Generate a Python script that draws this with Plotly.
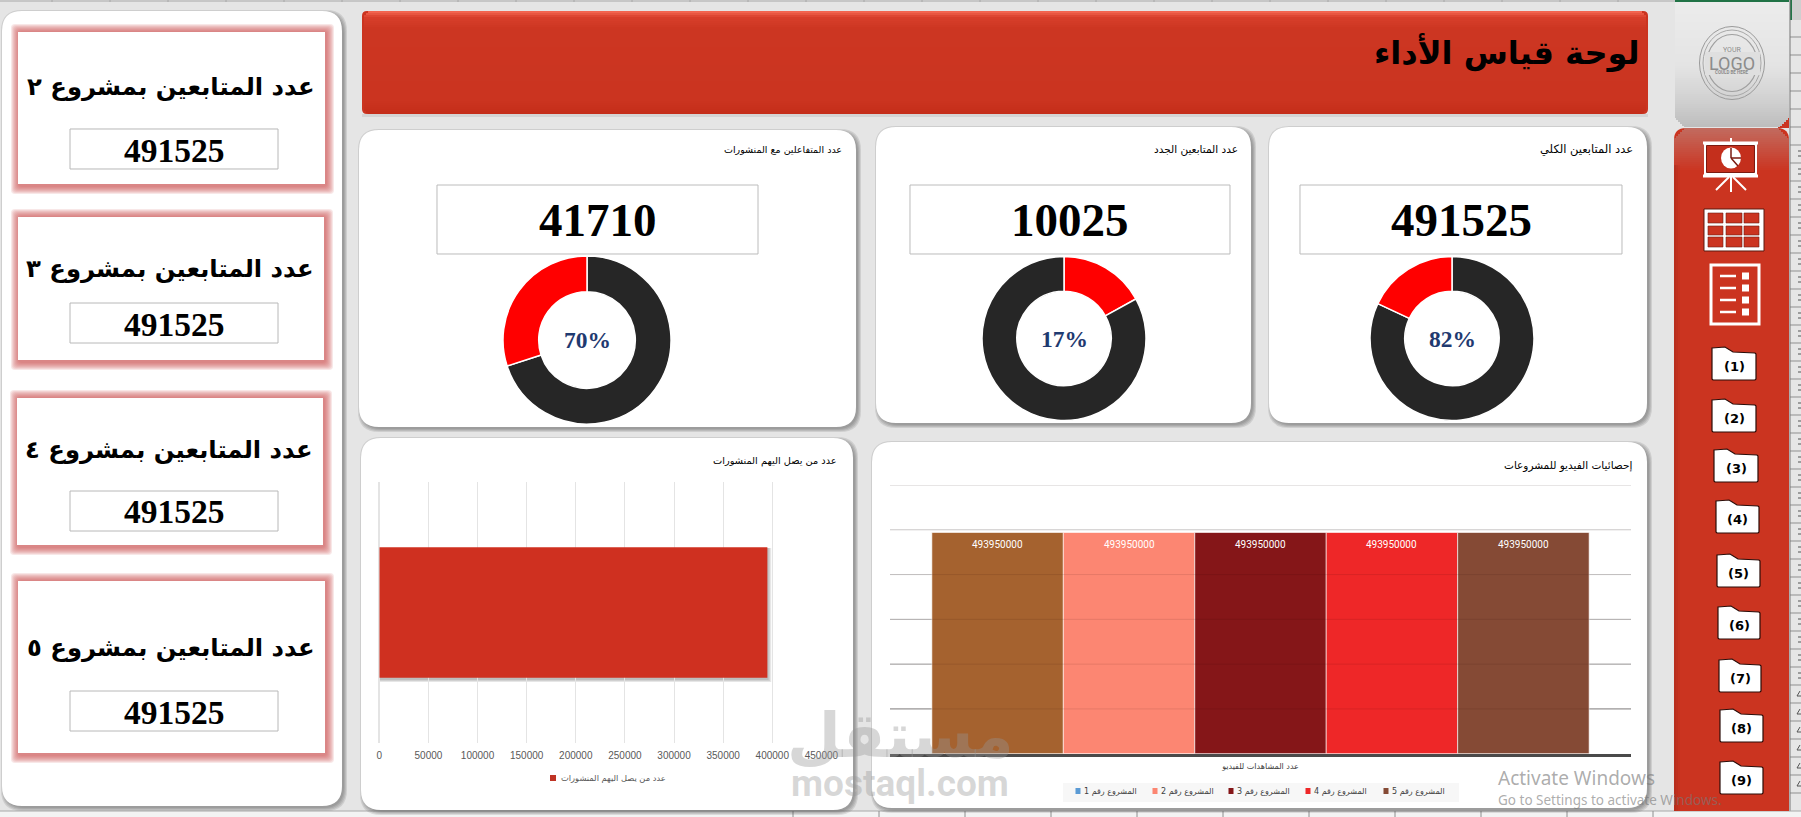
import plotly.graph_objects as go

W, H = 1801, 817

# ---------- data ----------
card_titles = ["عدد المتابعين بمشروع ٢", "عدد المتابعين بمشروع ٣", "عدد المتابعين بمشروع ٤", "عدد المتابعين بمشروع ٥"]
card_values = [491525, 491525, 491525, 491525]
kpi_titles = ["عدد المتابعين الكلي", "عدد المتابعين الجدد", "عدد المتفاعلين مع المنشورات"]
kpi_values = [491525, 10025, 41710]
kpi_pcts = [82, 17, 70]
reach_title = "عدد من يصل اليهم المنشورات"
reach_value = 395000
reach_ticks = [0, 50000, 100000, 150000, 200000, 250000, 300000, 350000, 400000, 450000]
video_title = "إحصائيات الفيديو للمشروعات"
video_category = "عدد المشاهدات للفيديو"
project_names = ["المشروع رقم 1", "المشروع رقم 2", "المشروع رقم 3", "المشروع رقم 4", "المشروع رقم 5"]
project_views = [493950000, 493950000, 493950000, 493950000, 493950000]
video_ticks = [100000000, 200000000, 300000000, 400000000, 500000000, 600000000]
page_title = "لوحة قياس الأداء"
folder_labels = ["(1)", "(2)", "(3)", "(4)", "(5)", "(6)", "(7)", "(8)", "(9)"]

# ---------- style ----------
BAR_COLORS = ["#a5622f", "#fc8672", "#851618", "#ee2728", "#854a35"]
LEGEND_COLORS = ["#5b9bd5", "#fc8672", "#851618", "#ee2728", "#854a35"]
GRID_COLORS = ["#8c8c8c", "#a6a6a6", "#bdbdbd", "#d2d2d2", "#e0e0e0", "#e6e6e6"]
RED = "#cb3420"
ARABIC = "DejaVu Sans"
SERIF = "Liberation Serif"

shapes = []
annos = []


def px(x):
    return x / W


def py(y):
    return 1 - y / H


def rrect_path(x0, y0, x1, y1, r=0, rb=None):
    rb = r if rb is None else rb
    P = lambda a, b: f"{px(a):.5f},{py(b):.5f}"
    return (f"M{P(x0 + r, y0)} L{P(x1 - r, y0)} Q{P(x1, y0)} {P(x1, y0 + r)} "
            f"L{P(x1, y1 - rb)} Q{P(x1, y1)} {P(x1 - rb, y1)} L{P(x0 + rb, y1)} "
            f"Q{P(x0, y1)} {P(x0, y1 - rb)} L{P(x0, y0 + r)} Q{P(x0, y0)} {P(x0 + r, y0)} Z")


def box(x0, y0, x1, y1, fill="white", r=0, rb=None, line=None, lw=1, layer="below"):
    shapes.append(dict(type="path", path=rrect_path(x0, y0, x1, y1, r, rb), xref="paper", yref="paper",
                       fillcolor=fill, line=dict(color=line or "rgba(0,0,0,0)", width=lw if line else 0), layer=layer))


def seg(x0, y0, x1, y1, color, lw=1, layer="below"):
    shapes.append(dict(type="line", xref="paper", yref="paper", x0=px(x0), y0=py(y0), x1=px(x1), y1=py(y1),
                       line=dict(color=color, width=lw), layer=layer))


def ell(cx, cy, rx, ry, line=None, lw=1, fill="rgba(0,0,0,0)", layer="below"):
    shapes.append(dict(type="circle", xref="paper", yref="paper", x0=px(cx - rx), x1=px(cx + rx), y0=py(cy + ry),
                       y1=py(cy - ry), fillcolor=fill, line=dict(color=line or "rgba(0,0,0,0)", width=lw if line else 0),
                       layer=layer))


def txt(x, y, s, size, color="black", family=ARABIC, anchor="center", bold=False):
    annos.append(dict(x=px(x), y=py(y), xref="paper", yref="paper", text=f"<b>{s}</b>" if bold else s, showarrow=False,
                      xanchor=anchor, yanchor="middle", font=dict(size=size, color=color, family=family),
                      borderpad=0, borderwidth=0))


def shadow_card(x0, y0, x1, y1, r=20, dx=2, dy=2):
    for i in range(4, 0, -1):
        box(x0 + dx - i + 1, y0 + dy - i + 1, x1 + dx + i - 1, y1 + dy + i - 1, "rgba(70,70,70,0.14)", r + 1)
    box(x0, y0, x1, y1, "white", r)


def mix(c1, c2, t):
    a = [int(c1[i:i + 2], 16) for i in (1, 3, 5)]
    b = [int(c2[i:i + 2], 16) for i in (1, 3, 5)]
    return "#" + "".join(f"{round(p + (q - p) * t):02x}" for p, q in zip(a, b))


def grad(x0, y0, x1, y1, stops, step=2, inset=None):
    y = y0
    while y < y1:
        t = (y - y0) / (y1 - y0)
        for k in range(len(stops) - 1):
            if stops[k][0] <= t <= stops[k + 1][0]:
                c = mix(stops[k][1], stops[k + 1][1], (t - stops[k][0]) / (stops[k + 1][0] - stops[k][0]))
                break
        i = inset(y) if inset else 0
        shapes.append(dict(type="rect", xref="paper", yref="paper", x0=px(x0 + i), x1=px(x1 - i), y0=py(min(y + step, y1)),
                           y1=py(y), fillcolor=c, line=dict(width=0), layer="below"))
        y += step


# ---------- sheet behind the dashboard ----------
box(1790, 0, W, 811, "#e6e6e6")
box(1790, 0, W, 20, "#cfcfcf")
box(1790, 0, 1792, 20, "#217346")
for gy in range(37, 811, 18):
    seg(1790, gy, W, gy, "#8f8f8f", 1)
    if 163 <= gy < 700:
        seg(1798, gy - 12, 1801, gy - 12, "#555555", 1)
        seg(1798, gy - 7, 1801, gy - 7, "#555555", 1)
    elif gy >= 703:
        seg(1797, gy - 7, 1800, gy - 12, "#555555", 1)
        seg(1797, gy - 7, 1801, gy - 7, "#555555", 1)
seg(1790, 0, 1790, 811, "#777777", 1)
box(0, 811, W, H, "#f3f3f3")
seg(0, 811, W, 811, "#a8a8a8", 1)
for gx in range(793, 1700, 86):
    seg(gx, 811, gx, H, "#8e8e8e", 1)
seg(0, 1, 1675, 1, "#a8a8a8", 1)
for gx in range(52, 1675, 58):
    seg(gx, 0, gx, 2, "#a8a8a8", 1)

# ---------- left column ----------
shadow_card(2, 11, 342, 806, 20, 2, 2)
card_rects = [(18, 32, 325, 184), (18, 217, 324, 360), (17, 398, 323, 545), (18, 581, 325, 753)]
card_title_y = [87, 268, 450, 647]
value_rects = [(70, 129, 278, 169), (70, 303, 278, 343), (70, 491, 278, 531), (70, 691, 278, 731)]
for (x0, y0, x1, y1), ty, vr, title, val in zip(card_rects, card_title_y, value_rects, card_titles, card_values):
    for i in range(8, 0, -1):
        box(x0 - i + 1, y0 - i, x1 + i + 1, y1 + i + 2, "rgba(205,85,85,0.14)", 4)
    box(x0, y0, x1, y1, "white")
    box(*vr, "white", line="#b8b8b8", lw=1)
    txt((x0 + x1) / 2 - 1, ty, title, 24.3, bold=True)
    txt((vr[0] + vr[2]) / 2, (vr[1] + vr[3]) / 2 + 1, val, 33.5, family=SERIF, bold=True)

# ---------- header ----------
box(362, 11, 1648, 114, RED, 5)
for i in range(3, 0, -1):
    box(362, 114 - 1 + i, 1648, 114 + i, "rgba(90,90,90,0.12)")
grad(364, 11, 1646, 114, [(0, "#f2644f"), (0.05, "#d83f2b"), (0.16, "#cc3622"), (0.85, "#cb3420"), (1, "#c32c19")], step=2,
     inset=lambda y: max(0, 4 - (y - 11)) if y < 16 else max(0, y - 109))
txt(1640, 52, page_title, 32, anchor="right", bold=True)

# ---------- KPI cards ----------
kpi_cards = [(1269, 127, 1647, 423), (876, 127, 1251, 423), (359, 130, 856, 427)]
kpi_boxes = [(1300, 185, 1622, 254), (910, 185, 1230, 254), (437, 185, 758, 254)]
kpi_title_x = [1633, 1238, 842]
kpi_title_size = [11.5, 10.5, 9.5]
donuts = [(1452, 338.5, 82), (1064, 338.5, 82), (587, 340, 84)]
for rect, vb, tx, ts, t, v, (cx, cy, r), pct in zip(kpi_cards, kpi_boxes, kpi_title_x, kpi_title_size, kpi_titles, kpi_values, donuts, kpi_pcts):
    shadow_card(*rect, 20)
    box(*vb, "white", line="#bcbcbc", lw=1)
    txt(tx, 149, t, ts, anchor="right")
    txt((vb[0] + vb[2]) / 2, 220, v, 47, family=SERIF, bold=True)
    txt(cx, cy, f"{pct}%", 23.5, color="#1f3a70", family=SERIF, bold=True)

# ---------- chart cards ----------
shadow_card(361, 438, 853, 810, 20)
shadow_card(872, 442, 1647, 808, 20)
txt(837, 461, reach_title, 9.8, anchor="right")
txt(1632, 465, video_title, 10.5, anchor="right")

# shadow of the reach bar, tied to the bar's own value
for i in range(3, 0, -1):
    shapes.append(dict(type="rect", xref="x", yref="paper", x0=0, x1=reach_value + i * 1300,
                       y0=py(678 + i + 1), y1=py(548), fillcolor="rgba(80,80,80,0.14)", line=dict(width=0), layer="below"))

# legends
box(553 - 3, 775, 553 + 3, 781, "#bf3324", layer="above")
txt(666, 778, reach_title, 8.3, color="#595959", anchor="right")
box(1063, 783, 1459, 802, "#f7f7f7")
for sx, name, col in zip([1078, 1155, 1231, 1308, 1386], project_names, LEGEND_COLORS):
    box(sx - 2.5, 788, sx + 2.5, 794, col)
    txt(sx + 6, 791, name, 8, color="#404040", anchor="left")

# ---------- logo tile ----------
shapes.append(dict(type="rect", xref="paper", yref="paper", x0=px(1675), x1=px(1789), y0=py(2), y1=py(0),
                   fillcolor="#217346", line=dict(width=0), layer="below"))
box(1778, 116, 1789, 128, RED)
grad(1675, 2, 1789, 127, [(0, "#ececec"), (0.5, "#e4e4e4"), (0.8, "#cfcfcf"), (1, "#bcbcbc")], step=2,
     inset=lambda y: max(0, 10 - (127 - y)) if y > 117 else 0)
for rx, ry, c, lw in [(32.5, 36.5, "#9a9a9a", 1), (29, 33, "#a8a8a8", 1), (25, 28.5, "#9f9f9f", 1.2)]:
    ell(1732, 63, rx, ry, line=c, lw=lw)
box(1705, 52, 1760, 75, "#dfdfdf")
txt(1732, 50, "YOUR", 7, color="#8c8c8c", family="Roboto")
txt(1732, 63, "LOGO", 18, color="#8c8c8c", family="Roboto")
txt(1732, 73, "COULD BE HERE", 4.5, color="#8c8c8c", family="Roboto", bold=True)

# ---------- red sidebar ----------
box(1674, 128, 1789, 811, RED, 12, 0)
grad(1674, 128, 1789, 170, [(0, "#c26a5e"), (1, RED)], step=2, inset=lambda y: max(0, 10 - (y - 128)))
for i, a in enumerate([0.16, 0.10, 0.05]):
    box(1674 + i * 2, 165, 1676 + i * 2, 811, f"rgba(90,20,10,{a})")

# presentation icon
box(1704, 143, 1757, 175, "white")
box(1706.5, 145.5, 1754.5, 172.5, "#c42f1c", line="#7a1a10", lw=1)
seg(1703, 176, 1758, 176, "white", 3)
seg(1703, 143, 1758, 143, "white", 3)
seg(1731, 138, 1731, 143, "white", 2)
seg(1731, 176, 1731, 192, "white", 2)
seg(1729, 177, 1716, 190, "white", 2)
seg(1733, 177, 1746, 190, "white", 2)
ell(1731, 158, 10, 10.5, fill="white")
seg(1731, 148, 1731, 158, "#7a1a10", 1.5)
seg(1731, 158, 1741, 158, "#7a1a10", 1.5)
seg(1731, 158, 1738, 166, "#7a1a10", 1.5)

# table icon
box(1704, 209, 1764, 251, "white", line="#5a1a10", lw=1)
for cx0, cx1 in [(1708, 1723), (1726, 1742), (1744, 1759)]:
    for cy0, cy1 in [(213, 223), (226, 235), (237, 247)]:
        box(cx0, cy0, cx1, cy1, RED, line="#6b2016", lw=0.6)

# list icon
box(1711, 265, 1759, 324, RED, line="white", lw=3)
for ly in [276, 288, 300, 312]:
    seg(1720, ly, 1736, ly, "white", 2.5)
    box(1742, ly - 3.5, 1749, ly + 3.5, "white")

# folders
folders = [(1712, 1756, 347, 380), (1712, 1756, 399, 432), (1714, 1758, 449, 482), (1716, 1759, 500, 533),
           (1717, 1760, 554, 587), (1718, 1760, 606, 639), (1719, 1761, 659, 692), (1720, 1763, 709, 742),
           (1720, 1763, 761, 794)]
for (x0, x1, y0, y1), lab in zip(folders, folder_labels):
    P = lambda a, b: f"{px(a):.5f},{py(b):.5f}"
    path = (f"M{P(x0, y0 + 1)} L{P(x0 + 13, y0)} L{P(x0 + 21, y0 + 5)} L{P(x1 - 1, y0 + 6)} L{P(x1, y0 + 7)} "
            f"L{P(x1, y1 - 1)} L{P(x1 - 1, y1)} L{P(x0 + 1, y1)} L{P(x0, y1 - 1)} Z")
    shapes.append(dict(type="path", path=path, xref="paper", yref="paper", fillcolor="white",
                       line=dict(color="#2a0c08", width=1.2), layer="below"))
    txt((x0 + x1) / 2, (y0 + y1) / 2 + 3, lab, 13, family="DejaVu Sans", bold=True)

# ---------- traces ----------
fig = go.Figure()

for (cx, cy, r), pct, red_first in zip(donuts, kpi_pcts, [False, True, False]):
    cols = ["#ff0000", "#262626"] if red_first else ["#262626", "#ff0000"]
    fig.add_trace(go.Pie(values=[pct, 100 - pct], marker=dict(colors=cols, line=dict(color="white", width=1.5)), hole=0.575,
                         sort=False, direction="clockwise", rotation=0, textinfo="none", showlegend=False,
                         domain=dict(x=[px(cx - r), px(cx + r)], y=[py(cy + r), py(cy - r)])))

fig.add_trace(go.Bar(x=[reach_value], y=[reach_title], orientation="h", width=[0.5],
                     marker=dict(color="#cf3020", line=dict(width=0)), xaxis="x", yaxis="y", showlegend=False))

for i, (name, val, col) in enumerate(zip(project_names, project_views, BAR_COLORS)):
    fig.add_trace(go.Bar(x=[video_category], y=[val], name=name, marker=dict(color=col, line=dict(color="white", width=0.6)),
                         xaxis="x2", yaxis="y2", showlegend=False))
    annos.append(dict(x=video_category, y=val, xref="x2", yref="y2", text=str(val), showarrow=False,
                      xshift=(i - 2) * 131.4, yshift=-12, font=dict(color="white", size=10, family="Liberation Sans Narrow, Roboto")))

# coloured gridlines of the video chart, placed by the chart's own y axis
for tick, col in zip(video_ticks, GRID_COLORS):
    shapes.append(dict(type="line", xref="x2 domain", yref="y2", x0=0, x1=1, y0=tick, y1=tick,
                       line=dict(color=col, width=1), layer="below"))
    shapes.append(dict(type="line", xref="x2 domain", yref="y2", x0=0, x1=1, y0=tick, y1=tick,
                       line=dict(color="rgba(40,0,0,0.10)", width=1), layer="above"))

# ---------- watermarks ----------
txt(900, 735, "مستقل", 62, color="rgba(150,150,150,0.38)", bold=True)
txt(900, 783, "mostaql.com", 37, color="rgba(150,150,150,0.38)", family="Roboto", bold=True)
txt(1498, 778, "Activate Windows", 19, color="rgba(120,120,120,0.62)", family="Noto Sans", anchor="left")
txt(1498, 800, "Go to Settings to activate Windows.", 13.5, color="rgba(120,120,120,0.62)", family="Noto Sans", anchor="left")

fig.update_layout(
    width=W, height=H, margin=dict(l=0, r=0, t=0, b=0, autoexpand=False), paper_bgcolor="#e5e5e5", plot_bgcolor="rgba(0,0,0,0)",
    barmode="group", bargap=0.113, bargroupgap=0, shapes=shapes, annotations=annos,
    xaxis=dict(domain=[px(379.3), px(821.4)], range=[0, 450000], tickvals=reach_ticks, ticktext=[str(t) for t in reach_ticks],
               showgrid=True, gridcolor="#e4e4e4", gridwidth=1, zeroline=True, zerolinecolor="#e4e4e4", showline=False,
               ticks="", tickfont=dict(size=10, color="#595959", family="Liberation Sans"), anchor="y", fixedrange=True,
               ticklabelstandoff=5),
    yaxis=dict(domain=[py(743), py(482)], range=[-0.5, 0.5], showticklabels=False, showgrid=False, showline=False, zeroline=False,
               ticks="", anchor="x", fixedrange=True),
    xaxis2=dict(domain=[px(890), px(1631)], showline=True, linecolor="#4a4a4a", linewidth=2.5, showgrid=False, ticks="",
                tickfont=dict(size=8, color="#404040", family=ARABIC), anchor="y2", fixedrange=True, ticklabelstandoff=3),
    yaxis2=dict(domain=[py(753.7), py(485)], range=[0, 600000000], showticklabels=False, showgrid=False, zeroline=False,
                tickvals=video_ticks, ticks="", anchor="x2", fixedrange=True),
    showlegend=False,
    hovermode=False,
)

fig.write_html("out.html", config=dict(displayModeBar=False),
               post_script="document.body.style.margin='0';document.body.style.overflow='hidden';")
